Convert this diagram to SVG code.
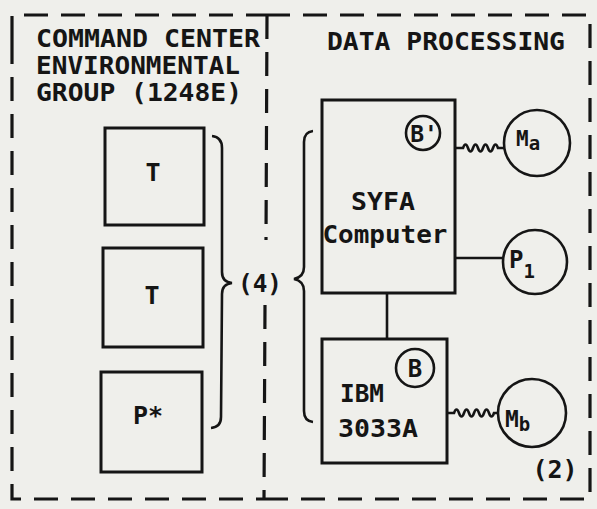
<svg xmlns="http://www.w3.org/2000/svg" width="597" height="509" viewBox="0 0 597 509">
<style>
.bg{fill:#efefeb}
.dash{fill:none;stroke:#151515;stroke-width:3.2;stroke-dasharray:24 13}
.box{fill:none;stroke:#151515;stroke-width:3}
.ln{fill:none;stroke:#151515;stroke-width:2.6}
.t{font-family:"DejaVu Sans Mono","Liberation Mono",monospace;fill:#151515;font-size:25px;font-weight:bold}
.s{font-size:19px}
.c{text-anchor:middle}
</style>
<rect class="bg" x="0" y="0" width="597" height="509"/>
<g id="frame">
<path class="dash" d="M12,40 L12,15 L266,15"/>
<path class="dash" d="M12,40 L12,499 L266,499"/>
<path class="dash" d="M266,15 L590,15 L590,499 L266,499"/>
<path class="dash" d="M267,15 L266,240"/>
<path class="dash" d="M265,305 L264,499"/>
</g>
<g id="group-command">
<text class="t" x="36" y="47" textLength="224" lengthAdjust="spacingAndGlyphs">COMMAND CENTER</text>
<text class="t" x="36" y="74" textLength="204" lengthAdjust="spacingAndGlyphs">ENVIRONMENTAL</text>
<text class="t" x="36" y="101" textLength="206" lengthAdjust="spacingAndGlyphs">GROUP (1248E)</text>
</g>
<g id="group-data">
<text class="t" x="327" y="50" textLength="238" lengthAdjust="spacingAndGlyphs">DATA PROCESSING</text>
</g>
<g id="node-t1">
<rect class="box" x="105" y="128" width="99" height="97"/>
<text class="t c" x="153" y="181">T</text>
</g>
<g id="node-t2">
<rect class="box" x="103" y="248" width="100" height="99"/>
<text class="t c" x="152" y="304">T</text>
</g>
<g id="node-pstar">
<rect class="box" x="101" y="372" width="101" height="100"/>
<text class="t c" x="148" y="424">P*</text>
</g>
<g id="brace-4">
<path class="ln" d="M212,136 Q222,137 222,148 L222,272 Q222,282 232,283 Q222,284 222,294 L221,417 Q221,427 211,428"/>
<text class="t c" x="260" y="292" textLength="44" lengthAdjust="spacingAndGlyphs">(4)</text>
<path class="ln" d="M313,131 Q304,132 304,142 L304,267 Q304,277 294,279 Q304,281 304,291 L304,411 Q304,421 313,422"/>
</g>
<g id="node-syfa">
<rect class="box" x="322" y="100" width="133" height="193"/>
<circle class="ln" cx="423" cy="133" r="17"/>
<text class="t c" x="424" y="142" style="font-size:23px">B'</text>
<text class="t c" x="383" y="210" textLength="64" lengthAdjust="spacingAndGlyphs">SYFA</text>
<text class="t c" x="385" y="243" textLength="125" lengthAdjust="spacingAndGlyphs">Computer</text>
</g>
<g id="node-ibm">
<rect class="box" x="322" y="339" width="125" height="124"/>
<circle class="ln" cx="415" cy="368" r="19"/>
<text class="t c" x="415" y="377" style="font-size:24px">B</text>
<text class="t" x="340" y="402" textLength="44" lengthAdjust="spacingAndGlyphs">IBM</text>
<text class="t" x="338" y="437" textLength="80" lengthAdjust="spacingAndGlyphs">3033A</text>
</g>
<g id="node-ma">
<circle class="ln" cx="537" cy="143" r="33"/>
<text class="t" x="516" y="146" style="font-size:21px">M<tspan class="s" dy="4">a</tspan></text>
</g>
<g id="node-p1">
<circle class="ln" cx="535" cy="262" r="32"/>
<text class="t" x="509" y="268" style="font-size:24px">P<tspan class="s" dy="10">1</tspan></text>
</g>
<g id="node-mb">
<circle class="ln" cx="532" cy="413" r="34"/>
<text class="t" x="505" y="427" style="font-size:23px">M<tspan class="s" dy="4">b</tspan></text>
</g>
<g id="connectors">
<path class="ln" d="M455,148 L463,148 q2.5,-7 5,0 q2.5,7 5,0 q2.5,-7 5,0 q2.5,7 5,0 q2.5,-7 5,0 q2.5,7 5,0 q2.5,-7 5,0 L504,148"/>
<path class="ln" d="M455,258 L503,258"/>
<path class="ln" d="M387,293 L387,339"/>
<path class="ln" d="M447,413 L454,413 q2.5,-7 5,0 q2.5,7 5,0 q2.5,-7 5,0 q2.5,7 5,0 q2.5,-7 5,0 q2.5,7 5,0 q2.5,-7 5,0 q2.5,7 5,0 L498,413"/>
<text class="t c" x="555" y="478">(2)</text>
</g>
</svg>
